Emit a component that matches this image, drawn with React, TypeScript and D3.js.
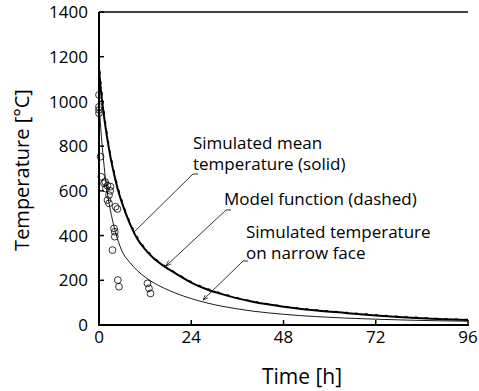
import React from "react";
import * as d3 from "d3";

const W = 479;
const H = 391;

const xTicks = [0, 24, 48, 72, 96];
const yTicks = [0, 200, 400, 600, 800, 1000, 1200, 1400];

const meanT = [0, 0.5, 1, 2, 3, 4, 5, 6, 8, 10, 12, 14, 17, 20, 24, 28, 32, 36, 40, 48, 56, 64, 72, 80, 88, 96];
const meanV = [1150, 1050, 975, 850, 750, 670, 600, 545, 455, 385, 338, 302, 262, 230, 190, 160, 138, 119, 104, 82, 66, 54, 43, 34, 27, 22];

const modelT = [0, 0.5, 1, 2, 3, 4, 5, 6, 8, 10, 12, 14, 17, 20, 24, 28, 32, 36, 40, 48, 56, 64, 72, 80, 88, 96];
const modelV = [1180, 1075, 992, 865, 763, 680, 610, 553, 462, 392, 343, 306, 266, 233, 193, 163, 141, 121, 106, 84, 68, 56, 45, 36, 29, 24];

const narrowT = [0, 0.5, 1, 2, 3, 4, 5, 6, 8, 10, 12, 14, 17, 20, 24, 28, 32, 36, 40, 48, 56, 64, 72, 80, 88, 96];
const narrowV = [1000, 870, 770, 610, 510, 435, 375, 330, 280, 243, 214, 191, 164, 142, 118, 99, 84, 72, 62, 48, 38, 31, 26, 22, 19, 17];

const measT = [0, 0, 0, 0, 0.4, 0.6, 1.3, 2.2, 3.0, 2.6, 2.6, 2.2, 1.8, 4.3, 4.8, 3.9, 4.1, 4.1, 3.5, 4.9, 5.2, 12.6, 13.0, 13.4, 1.6, 2.9];
const measV = [1029, 962, 947, 976, 753, 663, 634, 623, 619, 581, 544, 559, 610, 529, 519, 432, 417, 395, 335, 201, 171, 186, 164, 141, 640, 600];

const labels = [
  { lines: ["Simulated mean", "temperature (solid)"], x: 193, y: 149 },
  { lines: ["Model function (dashed)"], x: 224, y: 205 },
  { lines: ["Simulated temperature", "on narrow face"], x: 246, y: 238 },
];

const leaders = [
  { from: [198, 174], knee: [193, 174], to: [133, 233] },
  { from: [231, 210], knee: [226, 210], to: [166, 266] },
  { from: [248, 261], knee: [243, 261], to: [203, 300] },
];

export default function App() {
  const left = 99, right = 468, top = 12, bottom = 325;
  const x = d3.scaleLinear().domain([0, 96]).range([left, right]);
  const y = d3.scaleLinear().domain([0, 1400]).range([bottom, top]);
  const line = (ts: number[], vs: number[]) =>
    d3.line<number>().x((_, i) => x(ts[i])).y((v) => y(v)).curve(d3.curveMonotoneX)(vs) || "";

  const font = "'Open Sans', sans-serif";

  return (
    <svg width={W} height={H} style={{ position: "absolute", left: 0, top: 0, background: "#fff" }} fontFamily={font}>
      <defs>
        <marker id="arr" viewBox="0 0 10 10" refX="10" refY="5" markerWidth="7" markerHeight="7" orient="auto">
          <path d="M0,1 L10,5 L0,9" fill="none" stroke="#000" strokeWidth="1.2" />
        </marker>
      </defs>
      {/* curves */}
      <path d={line(narrowT, narrowV)} fill="none" stroke="#000" strokeWidth={0.9} />
      <path d={line(meanT, meanV)} fill="none" stroke="#000" strokeWidth={2} />
      <path d={line(modelT, modelV)} fill="none" stroke="#000" strokeWidth={1.6} strokeDasharray="3,7" />
      {/* measurements */}
      {measV.map((v, i) => (
        <circle key={i} cx={x(measT[i])} cy={y(v)} r={3.4} fill="none" stroke="#000" strokeWidth={0.8} />
      ))}
      {/* axes */}
      <line x1={left} x2={left} y1={top} y2={bottom + 1} stroke="#000" strokeWidth={2} />
      <line x1={left - 1} x2={right + 1} y1={bottom} y2={bottom} stroke="#000" strokeWidth={2} />
      <line x1={left} x2={right} y1={top} y2={top} stroke="#000" strokeWidth={1.5} />
      {yTicks.map((t) => (
        <g key={t}>
          <line x1={left} x2={left + 5} y1={y(t)} y2={y(t)} stroke="#000" strokeWidth={1.5} />
          <text x={88} y={y(t)} dy="0.36em" textAnchor="end" fontSize={17}>{t}</text>
        </g>
      ))}
      {xTicks.map((t) => (
        <g key={t}>
          <line x1={x(t)} x2={x(t)} y1={bottom} y2={bottom - 5} stroke="#000" strokeWidth={1.5} />
          <text x={x(t)} y={343} textAnchor="middle" fontSize={17}>{t}</text>
        </g>
      ))}
      <text x={302} y={384} textAnchor="middle" fontSize={21}>Time [h]</text>
      <text transform={`translate(29,170) rotate(-90)`} textAnchor="middle" fontSize={20}>Temperature [°C]</text>
      {/* labels */}
      {labels.map((l, i) => (
        <text key={i} x={l.x} y={l.y} fontSize={17}>
          {l.lines.map((s, j) => (
            <tspan key={j} x={l.x} dy={j === 0 ? 0 : 21}>{s}</tspan>
          ))}
        </text>
      ))}
      {leaders.map((l, i) => (
        <polyline key={i} points={`${l.from.join(",")} ${l.knee.join(",")} ${l.to.join(",")}`} fill="none" stroke="#000" strokeWidth={0.8} markerEnd={i > 0 ? "url(#arr)" : undefined} />
      ))}
    </svg>
  );
}
